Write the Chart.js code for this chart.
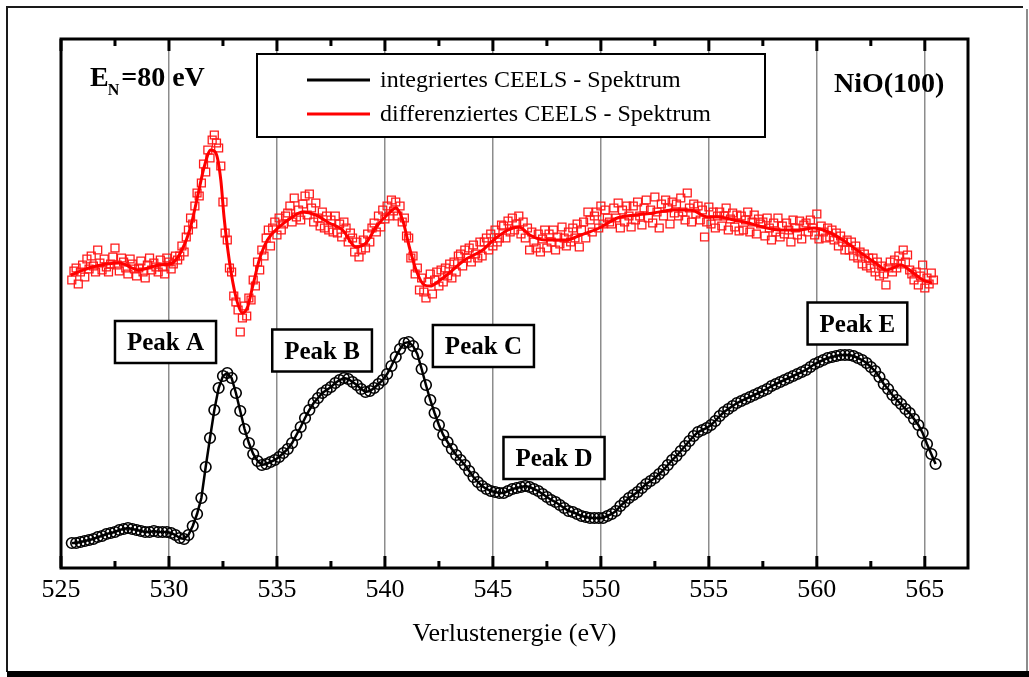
<!DOCTYPE html>
<html>
<head>
<meta charset="utf-8">
<title>NiO(100) CEELS</title>
<script src="https://cdn.jsdelivr.net/npm/chart.js@4/dist/chart.umd.min.js"></script>
<style>
  html, body { margin: 0; padding: 0; background: #fff; }
  canvas { display: block; }
</style>
</head>
<body>
<canvas id="c" width="1029" height="677"></canvas>
<script>
const SERIF = "'Liberation Serif', 'Times New Roman', Times, serif";

// energy axis (eV)
const majorTicks = [525, 530, 535, 540, 545, 550, 555, 560, 565];
const minorTicks = [527.5, 532.5, 537.5, 542.5, 547.5, 552.5, 557.5, 562.5];

// integrated CEELS spectrum, one value every 0.2 eV starting at 525.5 eV
const intStart = 525.5, intStep = 0.2;
const intValues = [
  25, 25, 26, 27, 28, 29, 31, 32, 34, 35,
  36, 38, 39, 40, 39, 38, 37, 36, 36, 37,
  36, 36, 36, 35, 33, 30, 29, 33, 42, 54,
  70, 101, 130, 158, 180, 192, 195, 190, 175, 157,
  139, 125, 114, 107, 103, 104, 106, 108, 111, 115,
  119, 125, 133, 141, 150, 158, 165, 170, 175, 178,
  181, 185, 188, 190, 189, 186, 183, 179, 176, 177,
  180, 184, 188, 194, 202, 211, 219, 225, 226, 222,
  214, 199, 183, 168, 155, 143, 133, 126, 119, 113,
  108, 103, 97, 91, 86, 82, 79, 77, 76, 75,
  75, 77, 79, 80, 81, 82, 81, 79, 77, 74,
  71, 68, 66, 63, 60, 57, 56, 54, 52, 51,
  50, 50, 50, 50, 52, 54, 57, 62, 66, 70,
  73, 76, 80, 84, 87, 90, 94, 98, 103, 108,
  112, 117, 122, 127, 132, 136, 138, 140, 143, 147,
  152, 156, 159, 162, 165, 167, 169, 171, 173, 175,
  177, 179, 182, 184, 186, 188, 190, 192, 194, 196,
  198, 201, 204, 206, 208, 210, 211, 212, 213, 213,
  213, 212, 210, 208, 205, 201, 197, 191, 184, 179,
  173, 168, 164, 159, 155, 149, 143, 135, 124, 114,
  104
];

// differentiated CEELS spectrum (raw points), one value every 0.1 eV starting at 525.5 eV
const difStart = 525.5, difStep = 0.1;
const difValues = [
  288, 297, 300, 284, 296, 303, 291, 309, 299, 312,
  302, 296, 318, 305, 298, 309, 301, 296, 304, 311,
  320, 303, 297, 310, 306, 300, 294, 309, 304, 299,
  292, 300, 307, 296, 290, 303, 310, 298, 305, 301,
  296, 308, 301, 294, 310, 306, 299, 304, 312, 308,
  312, 322, 316, 331, 338, 350, 344, 362, 375, 372,
  385, 404, 396, 418, 410, 428, 433, 425, 420, 402,
  366, 335, 328, 300, 296, 272, 266, 258, 236, 250,
  262, 252, 270, 268, 288, 282, 306, 298, 318, 312,
  330, 338, 322, 340, 346, 333, 350, 338, 344, 352,
  355, 362, 346, 370, 351, 358, 348, 364, 372, 353,
  374, 360, 346, 365, 350, 342, 356, 340, 352, 338,
  348, 336, 352, 335, 344, 331, 346, 340, 326, 335,
  330, 316, 326, 311, 318, 328, 320, 334, 326, 340,
  345, 336, 352, 341, 358, 349, 362, 352, 368, 357,
  366, 352, 362, 346, 350, 332, 330, 310, 312, 294,
  300, 278, 290, 276, 270, 286, 294, 274, 288, 296,
  282, 298, 286, 300, 292, 304, 290, 306, 296, 312,
  314, 302, 318, 310, 320, 306, 323, 314, 310, 326,
  312, 326, 330, 318, 334, 322, 338, 326, 330, 343,
  342, 330, 347, 336, 350, 338, 344, 352, 334, 346,
  330, 340, 318, 336, 326, 320, 334, 316, 329, 338,
  320, 334, 326, 338, 318, 331, 324, 341, 330, 322,
  336, 326, 340, 330, 344, 321, 338, 346, 330, 356,
  348, 336, 352, 356, 340, 362, 344, 358, 350, 346,
  344, 360, 350, 365, 340, 358, 346, 362, 352, 341,
  362, 348, 366, 352, 343, 360, 368, 350, 358, 345,
  371, 356, 340, 364, 352, 368, 360, 344, 366, 355,
  364, 352, 370, 356, 348, 375, 360, 346, 364, 354,
  362, 348, 358, 331, 346, 361, 344, 356, 340, 352,
  356, 342, 352, 360, 338, 349, 355, 341, 353, 337,
  352, 338, 348, 356, 336, 346, 353, 334, 349, 344,
  346, 332, 350, 340, 328, 345, 336, 350, 331, 342,
  334, 345, 338, 326, 348, 340, 333, 347, 329, 343,
  345, 336, 348, 340, 333, 354, 329, 342, 336, 330,
  340, 331, 338, 328, 335, 322, 332, 326, 318, 328,
  318, 326, 312, 322, 310, 316, 304, 314, 302, 310,
  300, 310, 296, 306, 292, 302, 294, 283, 300, 306,
  296, 308, 300, 312, 304, 318, 306, 313, 298, 294,
  288, 296, 283, 292, 303, 280, 290, 284, 295, 288
];

// smoothed differentiated spectrum
const smoothE = [
  525.45, 526.45, 527.7, 528.6, 529.54, 530.16, 530.6, 531.0, 531.32, 531.63,
  531.94, 532.17, 532.4, 532.55, 532.79, 533.1, 533.4, 533.64, 533.87, 534.18,
  534.56, 535.1, 535.72, 536.18, 536.8, 537.42, 538.04, 538.66, 539.12, 539.59,
  540.2, 540.51, 540.82, 541.13, 541.44, 541.82, 542.1, 542.5, 542.98, 543.69,
  544.53, 545.03, 545.7, 546.21, 546.71, 547.38, 548.4, 549.07, 549.92, 550.76,
  551.6, 552.45, 553.29, 554.13, 554.97, 555.48, 556.15, 556.83, 557.5, 558.34,
  559.18, 559.86, 560.53, 561.2, 562.05, 562.72, 563.23, 563.9, 564.4, 564.92,
  565.34
];
const smoothV = [
  293, 301, 305, 298, 303, 305, 318, 341, 371, 401,
  418, 415, 388, 351, 308, 271, 255, 261, 281, 308,
  328, 341, 351, 356, 353, 345, 338, 321, 325, 341,
  355, 360, 348, 321, 298, 283, 282, 287, 295, 308,
  318, 328, 338, 341, 333, 328, 328, 333, 340, 350,
  353, 355, 358, 358, 351, 351, 348, 345, 341, 338,
  338, 340, 336, 328, 315, 305, 298, 303, 296, 288,
  285
];

// peak labels, anchored in data coordinates (box centres)
const peakNames = ['Peak A', 'Peak B', 'Peak C', 'Peak D', 'Peak E'];
const peakE = [529.84, 537.09, 544.56, 547.83, 561.88];
const peakV = [226, 217.5, 222, 110, 244.5];

const round2 = v => Math.round(v * 100) / 100;
const intPoints = intValues.map((v, i) => ({ x: round2(intStart + i * intStep), y: v }));
const difPoints = difValues.map((v, i) => ({ x: round2(difStart + i * difStep), y: v }));
const smoothPoints = smoothV.map((v, i) => ({ x: smoothE[i], y: v }));

const decorations = {
  id: 'decorations',
  beforeDraw(chart) {
    const { ctx, width, height } = chart;
    ctx.save();
    ctx.fillStyle = '#fff';
    ctx.fillRect(0, 0, width, height);
    // page frame with shadowed lower edge
    ctx.strokeStyle = '#1a1a1a';
    ctx.lineWidth = 2;
    ctx.beginPath();
    ctx.moveTo(7, 672); ctx.lineTo(7, 7); ctx.lineTo(1023, 7);
    ctx.stroke();
    ctx.strokeStyle = '#666';
    ctx.lineWidth = 1.5;
    ctx.beginPath();
    ctx.moveTo(1027, 9); ctx.lineTo(1027, 672);
    ctx.stroke();
    ctx.fillStyle = '#000';
    ctx.fillRect(7, 671, width - 7, height - 671);
    ctx.restore();
  },
  afterDatasetsDraw(chart) {
    const { ctx, chartArea: a } = chart;
    const xs = chart.scales.x, ys = chart.scales.y;
    ctx.save();

    // axis box
    ctx.strokeStyle = '#000';
    ctx.lineWidth = 3;
    ctx.strokeRect(a.left, a.top, a.right - a.left, a.bottom - a.top);

    // inward tick marks on top and bottom axes
    const tick = (v, len) => {
      const px = xs.getPixelForValue(v);
      ctx.beginPath();
      ctx.moveTo(px, a.bottom); ctx.lineTo(px, a.bottom - len);
      ctx.moveTo(px, a.top); ctx.lineTo(px, a.top + len);
      ctx.stroke();
    };
    majorTicks.forEach(v => tick(v, 12));
    minorTicks.forEach(v => tick(v, 7));

    // legend box
    const lx = a.left + 196, ly = a.top + 15, lw = 508, lh = 83;
    ctx.fillStyle = '#fff';
    ctx.fillRect(lx, ly, lw, lh);
    ctx.lineWidth = 2;
    ctx.strokeStyle = '#000';
    ctx.strokeRect(lx, ly, lw, lh);
    const items = chart.data.datasets
      .filter(d => d.legendRow !== undefined)
      .sort((p, q) => p.legendRow - q.legendRow);
    ctx.font = `24px ${SERIF}`;
    ctx.textAlign = 'left';
    ctx.textBaseline = 'alphabetic';
    items.forEach((d, i) => {
      const yy = ly + 26 + i * 34;
      ctx.strokeStyle = d.borderColor;
      ctx.lineWidth = 3;
      ctx.beginPath();
      ctx.moveTo(lx + 50, yy); ctx.lineTo(lx + 113, yy);
      ctx.stroke();
      ctx.fillStyle = '#000';
      ctx.fillText(d.label, lx + 123, yy + 7);
    });

    // beam energy and sample
    ctx.fillStyle = '#000';
    ctx.font = `bold 28px ${SERIF}`;
    const ex = a.left + 29, ey = a.top + 47;
    ctx.fillText('E', ex, ey);
    const eW = ctx.measureText('E').width;
    ctx.font = `bold 16px ${SERIF}`;
    ctx.fillText('N', ex + eW - 1, ey + 9);
    const nW = ctx.measureText('N').width;
    ctx.font = `bold 28px ${SERIF}`;
    ctx.fillText('=80 eV', ex + eW + nW + 1, ey);
    ctx.fillText('NiO(100)', a.left + 773, a.top + 53);

    // peak labels
    ctx.font = `bold 25px ${SERIF}`;
    ctx.textAlign = 'center';
    peakNames.forEach((name, i) => {
      const cx = xs.getPixelForValue(peakE[i]);
      const cy = ys.getPixelForValue(peakV[i]);
      const w = ctx.measureText(name).width + 24, h = 42;
      ctx.fillStyle = '#fff';
      ctx.fillRect(cx - w / 2, cy - h / 2, w, h);
      ctx.lineWidth = 2.5;
      ctx.strokeStyle = '#000';
      ctx.strokeRect(cx - w / 2, cy - h / 2, w, h);
      ctx.fillStyle = '#000';
      ctx.fillText(name, cx, cy + 8);
    });

    ctx.restore();
  }
};

new Chart(document.getElementById('c'), {
  type: 'scatter',
  data: {
    datasets: [
      {
        label: 'differenziertes CEELS - Spektrum',
        legendRow: 1,
        data: smoothPoints,
        showLine: true,
        borderColor: '#ff0000',
        borderWidth: 3,
        cubicInterpolationMode: 'monotone',
        pointRadius: 0,
        order: 0
      },
      {
        label: 'differenziertes CEELS - Spektrum (Messpunkte)',
        data: difPoints,
        showLine: false,
        pointStyle: 'rect',
        pointRadius: 5.6,
        pointBorderWidth: 1.3,
        pointBorderColor: '#ff1a1a',
        pointBackgroundColor: 'rgba(255,255,255,0)',
        order: 1
      },
      {
        label: 'integriertes CEELS - Spektrum',
        legendRow: 0,
        data: intPoints,
        showLine: true,
        borderColor: '#000',
        borderWidth: 2.5,
        tension: 0,
        pointStyle: 'circle',
        pointRadius: 5.3,
        pointBorderWidth: 1.6,
        pointBorderColor: '#000',
        pointBackgroundColor: 'rgba(255,255,255,0)',
        order: 2
      }
    ]
  },
  options: {
    responsive: false,
    animation: false,
    devicePixelRatio: 1,
    events: [],
    layout: { padding: { left: 61, right: 61, top: 39, bottom: 0 } },
    plugins: { legend: { display: false }, tooltip: { enabled: false } },
    scales: {
      x: {
        type: 'linear',
        position: 'bottom',
        min: 525,
        max: 567,
        afterFit: s => { s.height = 109; },
        border: { display: false },
        grid: {
          drawTicks: false,
          lineWidth: 1.5,
          color: c => (c.tick && c.tick.value === 525 ? 'rgba(0,0,0,0)' : '#8c8c8c')
        },
        ticks: {
          stepSize: 5,
          includeBounds: false,
          padding: 7,
          color: '#000',
          maxRotation: 0,
          font: { family: SERIF, size: 26 },
          callback: v => (majorTicks.includes(v) ? String(v) : '')
        },
        title: {
          display: true,
          text: 'Verlustenergie (eV)',
          color: '#000',
          font: { family: SERIF, size: 26 },
          padding: { top: 0, bottom: 27 }
        }
      },
      y: {
        display: false,
        min: 0,
        max: 529
      }
    }
  },
  plugins: [decorations]
});
</script>
</body>
</html>
